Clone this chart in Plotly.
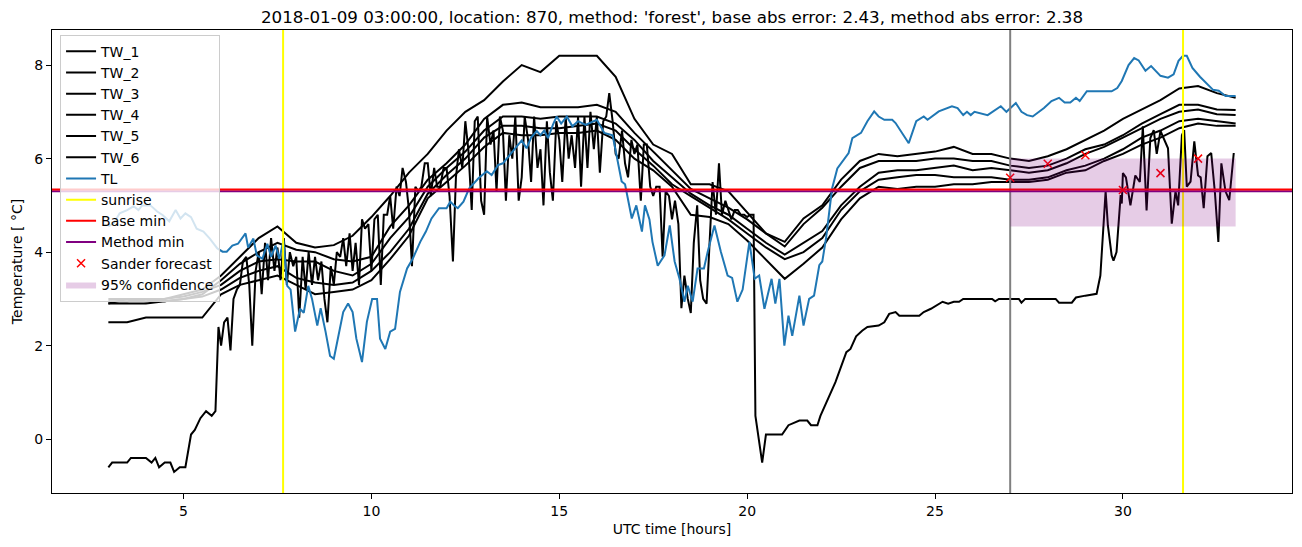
import plotly.graph_objects as go

# ---------------- data ----------------
hours_half = [3.0 + 0.5 * i for i in range(61)]  # 3.0 ... 33.0

tw_high = [2.95, 2.95, 3.0, 3.0, 3.1, 3.2, 3.5, 3.9, 4.3, 4.55,
           4.2, 4.1, 4.15, 4.35, 4.75, 5.2, 5.7, 6.1, 6.6, 7.0,
           7.25, 7.65, 8.0, 7.85, 8.2, 8.2, 8.2, 7.75, 6.85, 6.3,
           6.1, 5.45, 5.45, 5.3, 4.85, 4.4, 4.22, 4.72, 5.0, 5.55,
           5.95, 6.1, 6.05, 6.1, 6.15, 6.25, 6.1, 6.1, 6.0, 5.95,
           6.05, 6.2, 6.4, 6.6, 6.85, 7.05, 7.25, 7.5, 7.55, 7.4,
           7.3]
tw_b = [2.9, 2.9, 2.9, 2.95, 3.0, 3.1, 3.4, 3.75, 4.0, 4.2,
        4.05, 4.0, 3.85, 3.8, 3.9, 4.55, 5.0, 5.55, 5.9, 6.3,
        6.85, 7.15, 7.2, 7.1, 7.1, 7.1, 7.15, 7.0, 6.55, 6.15,
        5.75, 5.35, 5.15, 4.95, 4.7, 4.4, 4.12, 4.6, 4.95, 5.4,
        5.8, 5.95, 5.95, 5.95, 6.0, 6.0, 5.95, 5.95, 5.85, 5.8,
        5.85, 6.0, 6.2, 6.3, 6.5, 6.75, 6.95, 7.15, 7.15, 7.05,
        7.04]
tw_c = [3.0, 3.0, 2.95, 3.0, 3.05, 3.15, 3.3, 3.6, 3.8, 3.85,
        3.8, 3.8, 3.6, 3.5, 3.75, 4.3, 4.75, 5.4, 5.8, 6.15,
        6.6, 6.9, 6.9, 6.85, 6.9, 6.9, 6.9, 6.75, 6.4, 5.95,
        5.6, 5.25, 5.0, 4.8, 4.5, 4.2, 3.95, 4.2, 4.45, 5.0,
        5.4, 5.7, 5.75, 5.75, 5.8, 5.85, 5.75, 5.8, 5.75, 5.7,
        5.75, 5.9, 6.1, 6.25, 6.45, 6.65, 6.85, 7.0, 7.05, 6.95,
        6.93]
tw_d = [2.9, 3.0, 3.0, 2.95, 3.0, 3.05, 3.2, 3.45, 3.6, 3.7,
        3.45, 3.35, 3.3, 3.35, 3.6, 4.0, 4.5, 5.25, 5.65, 6.0,
        6.45, 6.7, 6.7, 6.65, 6.65, 6.7, 6.75, 6.6, 6.2, 5.85,
        5.45, 5.2, 4.95, 4.7, 4.4, 4.1, 3.85, 4.0, 4.3, 4.9,
        5.3, 5.55, 5.6, 5.65, 5.65, 5.6, 5.6, 5.6, 5.55, 5.55,
        5.6, 5.75, 5.85, 6.0, 6.2, 6.45, 6.6, 6.8, 6.85, 6.8,
        6.75]
tw_e = [2.5, 2.5, 2.6, 2.6, 2.6, 2.6, 3.1, 3.3, 3.4, 3.5,
        3.3, 3.1, 3.15, 3.2, 3.4, 3.85, 4.35, 5.15, 5.5, 5.85,
        6.25, 6.55, 6.5, 6.5, 6.55, 6.55, 6.6, 6.4, 6.0, 5.75,
        5.4, 4.8, 4.75, 4.6, 4.25, 3.85, 3.43, 3.75, 4.1, 4.7,
        5.15, 5.4, 5.35, 5.4, 5.4, 5.45, 5.45, 5.5, 5.5, 5.5,
        5.55, 5.7, 5.75, 5.95, 6.1, 6.3, 6.45, 6.65, 6.75, 6.7,
        6.7]

tw_noisy_hours = [
    3.0, 3.1, 3.5, 3.6, 4.0, 4.15, 4.25, 4.35, 4.5, 4.65, 4.75, 4.9, 5.05,
    5.2, 5.3, 5.45, 5.6, 5.75, 5.85, 5.93, 6.0, 6.08, 6.17, 6.25, 6.33, 6.42,
    6.5, 6.58, 6.67, 6.75, 6.83, 6.92, 7.0, 7.08, 7.17, 7.25, 7.33, 7.42, 7.5,
    7.58, 7.67, 7.75, 7.83, 7.92, 8.0, 8.08, 8.17, 8.25, 8.33, 8.42, 8.5, 8.58,
    8.67, 8.75, 8.83, 8.92, 9.0, 9.08, 9.17, 9.25, 9.33, 9.42, 9.5, 9.58, 9.67,
    9.75, 9.83, 9.92, 10.0, 10.08, 10.17, 10.25, 10.33, 10.42, 10.5, 10.58,
    10.67, 10.75, 10.83, 10.92, 11.0, 11.08, 11.17, 11.25, 11.33, 11.42, 11.5,
    11.58, 11.67, 11.75, 11.83, 11.92, 12.0, 12.08, 12.17, 12.25, 12.33, 12.42,
    12.5, 12.58, 12.67, 12.75, 12.83, 12.92, 13.0, 13.08, 13.17, 13.25, 13.33,
    13.42, 13.5, 13.58, 13.67, 13.75, 13.83, 13.92, 14.0, 14.08, 14.17, 14.25,
    14.33, 14.42, 14.5, 14.58, 14.67, 14.75, 14.83, 14.92, 15.0, 15.08, 15.17,
    15.25, 15.33, 15.42, 15.5, 15.58, 15.67, 15.75, 15.83, 15.92, 16.0, 16.08,
    16.17, 16.25, 16.33, 16.42, 16.5, 16.58, 16.67, 16.75, 16.83, 16.92, 17.0,
    17.08, 17.17, 17.25, 17.33, 17.42, 17.5, 17.58, 17.67, 17.75, 17.83, 17.92,
    18.0, 18.08, 18.17, 18.25, 18.33, 18.42, 18.5, 18.58, 18.67, 18.75, 18.83,
    18.92, 19.0, 19.08, 19.17, 19.25, 19.33, 19.42, 19.5, 19.58, 19.67, 19.75,
    19.83, 19.92, 20.0, 20.08, 20.17, 20.22, 20.4, 20.5, 20.93, 21.1, 21.39,
    21.6, 21.7, 21.87, 21.95, 22.18, 22.35, 22.64, 22.75, 22.9, 23.06, 23.2,
    23.5, 23.65, 23.78, 23.95, 24.05, 24.58, 24.7, 24.89, 25.05, 25.2, 25.35,
    25.5, 25.64, 25.75, 26.52, 26.6, 26.7, 27.23, 27.3, 27.4, 28.21, 28.3,
    28.64, 28.75, 29.0, 29.3, 29.4, 29.54, 29.6, 29.7, 29.75, 29.83, 29.94,
    29.97, 30.0, 30.08, 30.2, 30.33, 30.45, 30.53, 30.63, 30.73, 30.82, 30.9,
    31.0, 31.1, 31.2, 31.3, 31.4, 31.47, 31.57, 31.63, 31.7, 31.8, 31.9, 32.0,
    32.07, 32.15, 32.25, 32.35, 32.45, 32.54, 32.62, 32.73, 32.83, 32.95]
tw_noisy = [
    -0.6, -0.5, -0.5, -0.4, -0.4, -0.5, -0.4, -0.6, -0.5, -0.5, -0.7, -0.6, -0.6,
    0.1, 0.2, 0.45, 0.6, 0.5, 0.6, 2.4, 2.0, 2.5, 2.6, 1.9, 3.0, 3.2,
    3.3, 3.8, 3.9, 3.3, 2.0, 3.6, 4.0, 3.1, 4.2, 3.4, 4.3, 3.6, 4.1,
    3.4, 4.3, 3.3, 4.0, 3.7, 3.9, 2.6, 3.9, 3.2, 4.0, 3.3, 3.9, 3.4,
    3.8, 3.0, 2.5, 3.7, 3.3, 4.0, 3.9, 4.3, 3.7, 4.4, 3.6, 4.2, 3.3,
    4.7, 4.5, 4.6, 3.6, 4.7, 4.8, 3.3, 4.8, 4.8, 5.2, 4.5,
    5.4, 5.2, 5.8, 5.5, 4.9, 3.7, 5.4, 5.3, 5.4, 5.9, 5.9,
    5.2, 5.8, 5.4, 5.4, 5.8, 5.8, 5.2, 3.8, 5.6, 6.2, 5.8,
    6.8, 6.2, 4.9, 6.8, 6.9, 5.1, 4.8, 6.9, 6.3, 6.6, 5.3,
    6.9, 6.6, 5.1, 6.5, 6.0, 6.9, 5.1, 5.6, 6.9, 6.4, 5.5,
    6.9, 5.8, 6.2, 5.0, 6.8, 5.7, 5.1, 6.8, 6.4, 5.5, 6.9,
    6.0, 6.5, 5.8, 6.9, 5.4, 6.9, 5.8, 7.0, 6.2, 6.9, 5.7,
    6.8, 6.9, 7.4, 6.8, 6.1, 6.0, 6.6, 5.9, 5.6, 6.4, 6.1,
    6.3, 5.1, 6.3, 6.3, 5.4, 5.2, 5.4, 5.4, 3.9, 5.3, 5.2,
    4.7, 5.1, 4.6, 2.8, 3.5, 3.0, 2.7, 4.2, 5.0, 3.4, 3.0,
    2.9, 4.2, 5.5, 4.8, 5.9, 4.8, 5.1, 4.9, 4.7, 4.9, 4.9,
    4.8, 4.8, 4.75, 4.8, 4.8, 0.5, -0.5, 0.1, 0.1, 0.3, 0.4,
    0.4, 0.3, 0.3, 0.5, 0.93, 1.22, 1.86, 1.93, 2.2, 2.32, 2.4,
    2.43, 2.5, 2.68, 2.72, 2.64, 2.64, 2.72, 2.79, 2.86, 2.94, 2.9,
    2.94, 2.94, 3.0, 3.0, 2.95, 3.0, 3.0, 2.92, 3.0, 3.0, 2.92,
    2.92, 3.03, 3.07, 3.11, 3.5, 5.3, 4.57, 3.93, 3.82, 4.0, 5.22,
    5.04, 5.69, 5.6, 5.0, 5.64, 5.5, 6.69, 4.89, 6.44, 6.61, 6.1,
    6.59, 6.4, 6.22, 4.61, 5.3, 5.0, 6.5, 6.61, 5.4, 5.51, 6.37, 5.64,
    5.6, 4.94, 6.05, 6.12, 5.26, 4.22, 5.9, 5.3, 5.11, 6.12]

tl_hours = [
    3.0, 3.14, 3.3, 3.5, 3.67, 3.8, 3.9, 4.12, 4.3, 4.45, 4.62, 4.79, 4.92,
    5.05, 5.2, 5.35, 5.53, 5.7, 5.9, 6.04, 6.15, 6.3, 6.45, 6.65, 6.72, 6.86,
    6.95, 7.1, 7.23, 7.33, 7.45, 7.55, 7.66, 7.76, 7.85, 7.97, 8.1, 8.2, 8.32,
    8.42, 8.56, 8.65, 8.78, 8.9, 9.0, 9.1, 9.25, 9.38, 9.5, 9.6, 9.75, 9.88,
    10.02, 10.15, 10.23, 10.37, 10.5, 10.63, 10.76, 10.95, 11.1, 11.3, 11.45,
    11.6, 11.8, 12.0, 12.1, 12.2, 12.3, 12.45, 12.6, 12.85, 13.07, 13.2, 13.37,
    13.5, 13.77, 14.0, 14.13, 14.25, 14.4, 14.5, 14.6, 14.7, 14.83, 14.93,
    15.05, 15.2, 15.35, 15.5, 15.7, 16.0, 16.2, 16.42, 16.66, 16.75, 16.93,
    17.05, 17.2, 17.28, 17.4, 17.48, 17.62, 17.8, 17.94, 18.07, 18.2, 18.33,
    18.42, 18.55, 18.68, 18.85, 18.95, 19.13, 19.3, 19.48, 19.6, 19.74, 19.88,
    20.06, 20.2, 20.32, 20.46, 20.65, 20.75, 20.86, 20.99, 21.1, 21.2, 21.39,
    21.5, 21.65, 21.78, 21.92, 22.0, 22.1, 22.26, 22.4, 22.7, 22.8, 23.03,
    23.2, 23.38, 23.5, 23.65, 23.86, 23.95, 24.3, 24.5, 24.7, 24.8, 25.1,
    25.45, 25.6, 25.75, 25.85, 25.95, 26.05, 26.4, 26.75, 26.9, 27.15, 27.3,
    27.45, 27.6, 27.7, 27.9, 28.1, 28.3, 28.45, 28.6, 28.75, 28.85, 29.04,
    29.7, 29.85, 29.97, 30.15, 30.3, 30.42, 30.6, 30.75, 31.0, 31.2, 31.35,
    31.48, 31.6, 31.7, 31.85, 32.05, 32.2, 32.4, 32.55, 32.73, 33.0]
tl = [
    4.55, 4.61, 4.83, 4.9, 4.98, 4.9, 5.0, 5.0, 4.87, 4.79, 4.66, 4.9, 4.72,
    4.83, 4.75, 4.5, 4.44, 4.29, 4.08, 4.01, 4.01, 4.14, 4.18, 4.4, 4.1, 4.29,
    3.93, 3.86, 4.18, 3.9, 4.14, 3.86, 4.25, 3.28, 3.2, 2.3, 2.79, 2.7, 3.28,
    3.0, 2.43, 2.8, 2.3, 1.78, 1.72, 2.15, 2.72, 2.9, 2.72, 2.15, 1.65, 2.51,
    3.0, 3.0, 2.15, 1.93, 2.3, 2.36, 3.15, 3.65, 3.86, 4.22, 4.44,
    4.72, 4.94, 4.94, 5.08, 5.0, 4.94, 5.08, 5.36, 5.58, 5.73, 5.65, 5.86,
    5.9, 6.16, 6.39, 6.22, 6.45, 6.59, 6.5, 6.6, 6.44, 6.72, 6.9,
    6.75, 6.9, 6.69, 6.8, 6.72, 6.83, 6.55, 6.5, 5.51, 5.45, 4.72,
    5.0, 4.44, 5.0, 4.7, 4.22, 3.71, 3.93, 4.57, 3.8, 3.43, 2.94,
    3.28, 2.94, 3.65, 3.65, 4.01, 4.57, 4.01, 3.5, 3.45, 2.94, 3.2,
    4.22, 3.43, 3.5, 2.79, 3.43, 2.9, 3.43, 2.0, 2.64, 2.21, 3.07,
    2.43, 3.0, 3.07, 3.72, 3.8, 4.3, 5.36, 5.79, 6.12, 6.44, 6.55,
    6.8, 7.01, 6.9, 6.83, 6.83, 6.76, 6.33, 6.8, 6.9, 6.83, 7.01,
    7.12, 7.08, 6.93, 7.0, 6.93, 7.0, 6.93, 7.12, 7.0, 7.19, 7.0,
    6.93, 6.9, 6.96, 7.08, 7.23, 7.3, 7.2, 7.2, 7.3, 7.23, 7.44,
    7.44, 7.51, 7.66, 8.0, 8.15, 8.1, 7.88, 7.98, 7.77, 7.73, 7.8,
    8.09, 8.2, 8.2, 7.94, 7.75, 7.62, 7.47, 7.45, 7.34, 7.34]

sunrise_hours = [7.65, 31.6]
forecast_hour = 27.0
base_min = 5.337
method_min = 5.300
sander_hours = [27, 28, 29, 30, 31, 32]
sander_vals = [5.59, 5.89, 6.07, 5.33, 5.69, 6.0]
conf_hours = [27.0, 33.0]
conf_low = 4.55
conf_high = 6.0

x_range = [1.5, 34.5]
y_range = [-1.15, 8.75]
x_ticks = [5, 10, 15, 20, 25, 30]
y_ticks = [0, 2, 4, 6, 8]

title = ("2018-01-09 03:00:00, location: 870, method: 'forest', "
         "base abs error: 2.43, method abs error: 2.38")

# ---------------- figure ----------------
fig = go.Figure()
LW = 2
tw_series = [("TW_1", hours_half, tw_high), ("TW_2", hours_half, tw_b),
             ("TW_3", hours_half, tw_c), ("TW_4", hours_half, tw_d),
             ("TW_5", hours_half, tw_e), ("TW_6", tw_noisy_hours, tw_noisy)]
for i, (name, xs, ys) in enumerate(tw_series):
    fig.add_trace(go.Scatter(x=xs, y=ys, mode="lines", name=name, legendrank=10 + i,
                             line=dict(color="black", width=LW)))
fig.add_trace(go.Scatter(x=tl_hours, y=tl, mode="lines", name="TL", legendrank=20,
                         line=dict(color="#1f77b4", width=LW)))

sx, sy = [], []
for h in sunrise_hours:
    sx += [h, h, None]
    sy += [y_range[0], y_range[1], None]
fig.add_trace(go.Scatter(x=sx, y=sy, mode="lines", name="sunrise", legendrank=21,
                         line=dict(color="yellow", width=LW)))
fig.add_trace(go.Scatter(x=[forecast_hour, forecast_hour], y=y_range, mode="lines",
                         showlegend=False, line=dict(color="gray", width=LW)))
fig.add_trace(go.Scatter(x=x_range, y=[method_min, method_min], mode="lines",
                         name="Method min", legendrank=23,
                         line=dict(color="purple", width=LW)))
fig.add_trace(go.Scatter(x=x_range, y=[base_min, base_min], mode="lines",
                         name="Base min", legendrank=22,
                         line=dict(color="red", width=LW)))
fig.add_trace(go.Scatter(x=sander_hours, y=sander_vals, mode="markers",
                         name="Sander forecast", legendrank=24,
                         marker=dict(symbol="x-thin", size=8, color="red",
                                     line=dict(color="red", width=1.5))))
fig.add_trace(go.Scatter(
    x=[conf_hours[0], conf_hours[1], conf_hours[1], conf_hours[0], conf_hours[0]],
    y=[conf_low, conf_low, conf_high, conf_high, conf_low],
    mode="lines", fill="toself", fillcolor="rgba(128,0,128,0.2)",
    line=dict(width=0), name="95% confidence", legendrank=25))

FONT = "DejaVu Sans"
axis_common = dict(showline=True, mirror=True, linecolor="black", linewidth=1,
                   ticks="outside", ticklen=5, tickcolor="black", tickwidth=1,
                   showgrid=False, zeroline=False,
                   tickfont=dict(family=FONT, size=14, color="black"))
fig.update_layout(
    width=1302, height=547,
    margin=dict(l=52, r=10, t=30, b=54),
    plot_bgcolor="white", paper_bgcolor="white",
    title=dict(text=title, x=0.5, xref="paper", xanchor="center",
               y=1 - 17 / 547, yref="container", yanchor="middle",
               font=dict(family=FONT, size=16.7, color="black")),
    xaxis=dict(range=x_range, tickvals=x_ticks,
               title=dict(text="UTC time [hours]", font=dict(family=FONT, size=14, color="black"),
                          standoff=6),
               **axis_common),
    yaxis=dict(range=y_range, tickvals=y_ticks,
               title=dict(text="Temperature [ °C]", font=dict(family=FONT, size=14, color="black"),
                          standoff=8),
               **axis_common),
    legend=dict(x=0.0065, y=0.99, xanchor="left", yanchor="top",
                bgcolor="rgba(255,255,255,0.8)", bordercolor="#cccccc", borderwidth=1,
                font=dict(family=FONT, size=14, color="black"),
                tracegroupgap=0),
    showlegend=True,
)

fig.write_html("out.html")
